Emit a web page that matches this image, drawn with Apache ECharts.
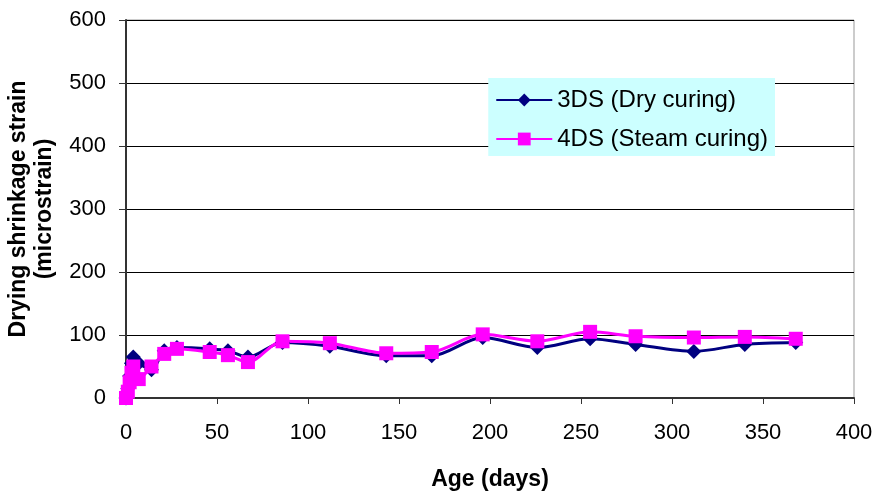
<!DOCTYPE html>
<html lang="en">
<head>
    <meta charset="UTF-8">
    <title>Drying shrinkage</title>
    <style>
        body { margin: 0; background: #fff; }
    </style>
</head>
<body>
<div id="chart" style="width: 880px;height: 493px;"></div>
<script src="https://cdn.jsdelivr.net/npm/echarts@6/dist/echarts.min.js"></script>
<script>
    /* age (days) */
    var days = [0, 1, 2, 3, 4, 7, 14, 21, 28, 46, 56, 67, 86, 112, 143, 168, 196, 226, 255, 280, 312, 340, 368];
    /* 3DS (Dry curing) */
    var dry = [0, 15, 35, 55, 65, 55, 45, 75, 80, 78, 75, 65, 88, 82, 67, 67, 96, 80, 94, 85, 74, 85, 88];
    /* 4DS (Steam curing) */
    var steam = [0, 10, 25, 40, 50, 30, 50, 70, 78, 73, 68, 57, 90, 87, 71, 73, 101, 90, 105, 98, 96, 97, 94];
    var xTicks = [0, 50, 100, 150, 200, 250, 300, 350, 400];
    var yTicks = [0, 100, 200, 300, 400, 500, 600];

    function pairs(v) {
        return days.map(function (d, i) { return [d, v[i]]; });
    }

    var chart = echarts.init(document.getElementById('chart'));
    var font = 'Liberation Sans, Arial, sans-serif';
    chart.setOption({
        animation: false,
        textStyle: { fontFamily: font },
        grid: {
            left: 126, right: 26, top: 20, bottom: 95,
            outerBoundsMode: 'none',
            containLabel: false,
            show: true, borderColor: '#999', borderWidth: 1
        },
        legend: {
            right: 105, top: 78,
            orient: 'vertical',
            align: 'left',
            backgroundColor: '#CCFFFF',
            padding: [10, 7, 5, 7],
            itemGap: 15,
            itemWidth: 56, itemHeight: 16,
            textStyle: { fontSize: 24, lineHeight: 24, color: '#000', fontFamily: font },
            data: ['3DS (Dry curing)', '4DS (Steam curing)']
        },
        xAxis: {
            type: 'value',
            min: xTicks[0], max: xTicks[xTicks.length - 1], interval: 50,
            name: 'Age (days)',
            nameLocation: 'middle', nameGap: 70,
            nameMoveOverlap: false,
            nameTextStyle: { fontSize: 23, fontWeight: 'bold', color: '#000' },
            axisLine: { show: true, lineStyle: { color: '#333', width: 2 } },
            axisTick: { show: true, length: 6, lineStyle: { color: '#333' } },
            axisLabel: { fontSize: 22, color: '#000', margin: 24 },
            splitLine: { show: false }
        },
        yAxis: {
            type: 'value',
            min: yTicks[0], max: yTicks[yTicks.length - 1], interval: 100,
            name: 'Drying shrinkage strain\n(microstrain)',
            nameLocation: 'middle', nameGap: 68,
            nameMoveOverlap: false,
            nameTextStyle: { fontSize: 23, fontWeight: 'bold', color: '#000', lineHeight: 26 },
            axisLine: { show: true, lineStyle: { color: '#333', width: 2 } },
            axisTick: { show: true, length: 7, lineStyle: { color: '#333' } },
            axisLabel: { fontSize: 22, color: '#000', margin: 20 },
            splitLine: { show: true, lineStyle: { color: '#000', width: 1 } }
        },
        series: [
            {
                name: '3DS (Dry curing)',
                type: 'line',
                smooth: 0.3,
                symbol: 'diamond',
                symbolSize: 15,
                color: '#000080',
                lineStyle: { width: 3, color: '#000080' },
                itemStyle: { color: '#000080' },
                data: pairs(dry)
            },
            {
                name: '4DS (Steam curing)',
                type: 'line',
                smooth: 0.3,
                symbol: 'rect',
                symbolSize: 14,
                color: '#FF00FF',
                lineStyle: { width: 3, color: '#FF00FF' },
                itemStyle: { color: '#FF00FF' },
                z: 3,
                data: pairs(steam)
            }
        ]
    });
</script>
</body>
</html>
